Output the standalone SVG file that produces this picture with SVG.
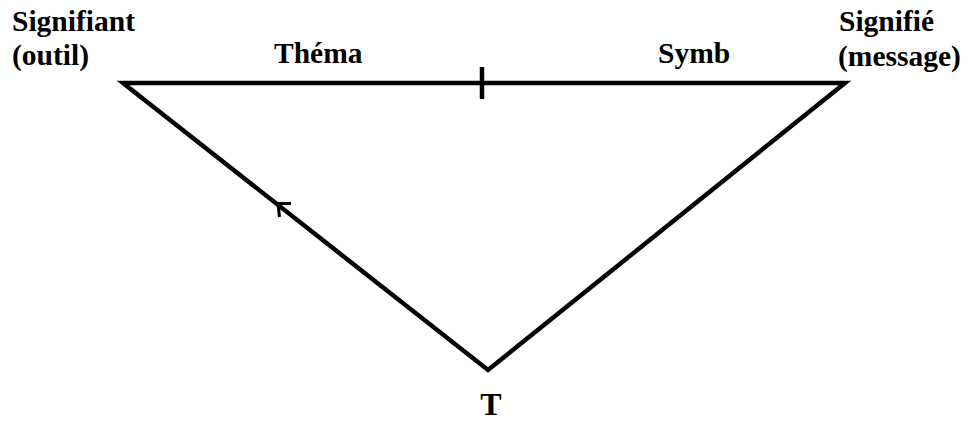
<svg xmlns="http://www.w3.org/2000/svg" width="968" height="423" viewBox="0 0 968 423">
<style>
.lbl{font-family:"Liberation Serif","Times New Roman",serif;font-weight:bold;font-size:29.5px;fill:#000}
.edge{stroke:#000;stroke-width:4.5;fill:none;stroke-linejoin:miter}
.arr{stroke:#000;stroke-width:3;fill:none}
</style>
<rect width="968" height="423" fill="#fff"/>
<g id="connectors">
<path class="edge" d="M123,83 L845,83 L488,370 Z"/>
<line class="edge" x1="482" y1="67" x2="482" y2="99"/>
<path class="arr" d="M291,203.5 L278,203.5 L279.5,217"/>
</g>
<g id="signifiant">
<text class="lbl" x="12" y="31">Signifiant</text>
<text class="lbl" x="12" y="65">(outil)</text>
</g>
<g id="signifie">
<text class="lbl" x="839" y="31">Signifié</text>
<text class="lbl" x="838" y="66">(message)</text>
</g>
<g id="thema"><text class="lbl" x="274" y="63">Théma</text></g>
<g id="symb"><text class="lbl" x="658" y="63">Symb</text></g>
<g id="t"><text class="lbl" x="491" y="415" text-anchor="middle" style="font-size:32px">T</text></g>
</svg>
